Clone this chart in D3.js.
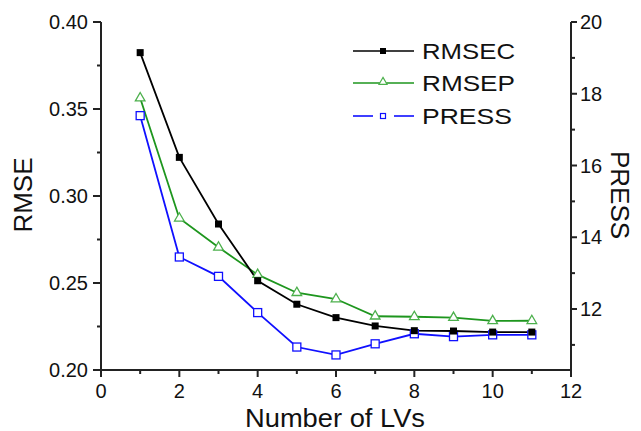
<!DOCTYPE html>
<html><head><meta charset="utf-8">
<script src="https://cdn.jsdelivr.net/npm/d3@7"></script>
<style>body{margin:0;background:#fff;} text{font-family:"Liberation Sans",Arial,sans-serif;fill:#111;}</style>
</head><body><svg id="c" width="641" height="431"></svg>
<script>
const lvs = [1,2,3,4,5,6,7,8,9,10,11];
const rmsec = [0.3824,0.3222,0.2839,0.2513,0.2378,0.2301,0.2253,0.2226,0.2224,0.2218,0.2218];
const rmsep = [0.3563,0.2872,0.2705,0.2548,0.2444,0.2408,0.2309,0.2306,0.2301,0.2282,0.2283];
const press = [17.39,13.45,12.91,11.90,10.94,10.72,11.03,11.31,11.23,11.28,11.28];
const xTicks = [0,2,4,6,8,10,12];
const yLeftTicks = [0.20,0.25,0.30,0.35,0.40];
const yRightTicks = [12,14,16,18,20];
const seriesNames = ["RMSEC","RMSEP","PRESS"];

const svg = d3.select("#c");
const L = 101, R = 571, T = 22, B = 370;
const x = d3.scaleLinear().domain([0,12]).range([L,R]);
const yl = d3.scaleLinear().domain([0.20,0.40]).range([B,T]);
const yr = d3.scaleLinear().domain([10.3,20]).range([B,T]);

const axisCol = "#222";
svg.append("line").attr("x1",L).attr("x2",L).attr("y1",T).attr("y2",B+1).attr("stroke",axisCol).attr("stroke-width",2);
svg.append("line").attr("x1",R).attr("x2",R).attr("y1",T).attr("y2",B+1).attr("stroke",axisCol).attr("stroke-width",2);
svg.append("line").attr("x1",L-1).attr("x2",R+1).attr("y1",B).attr("y2",B).attr("stroke",axisCol).attr("stroke-width",2);

const gx = svg.append("g");
d3.range(0,13,1).forEach(v=>{
  const major = v%2===0;
  gx.append("line").attr("x1",x(v)).attr("x2",x(v)).attr("y1",B).attr("y2",B+(major?7:4)).attr("stroke",axisCol).attr("stroke-width",2);
});
xTicks.forEach(v=>{
  gx.append("text").attr("x",x(v)).attr("y",398).attr("text-anchor","middle").attr("font-size",20).text(v);
});
d3.range(0,9).forEach(i=>{
  const v = 0.20 + i*0.025;
  const major = i%2===0;
  svg.append("line").attr("x1",L-(major?8:4)).attr("x2",L).attr("y1",yl(v)).attr("y2",yl(v)).attr("stroke",axisCol).attr("stroke-width",2);
});
yLeftTicks.forEach(v=>{
  svg.append("text").attr("x",88).attr("y",yl(v)+7).attr("text-anchor","end").attr("font-size",20).text(v.toFixed(2));
});
d3.range(11,21).forEach(v=>{
  const major = v%2===0;
  svg.append("line").attr("x1",R).attr("x2",R+(major?6:4)).attr("y1",yr(v)).attr("y2",yr(v)).attr("stroke",axisCol).attr("stroke-width",2);
});
yRightTicks.forEach(v=>{
  svg.append("text").attr("x",580).attr("y",yr(v)+7).attr("text-anchor","start").attr("font-size",20).text(v);
});

svg.append("text").attr("x",245).attr("y",427).attr("font-size",25).attr("textLength",180).attr("lengthAdjust","spacingAndGlyphs").text("Number of LVs");
svg.append("text").attr("transform","translate(32,195) rotate(-90)").attr("text-anchor","middle").attr("font-size",26).text("RMSE");
svg.append("text").attr("transform","translate(611,195) rotate(90)").attr("text-anchor","middle").attr("font-size",26).text("PRESS");

const black="#000", green="#1e961e", blue="#1010ff";
const lineL = d3.line().x(d=>x(d[0])).y(d=>yl(d[1]));
const lineR = d3.line().x(d=>x(d[0])).y(d=>yr(d[1]));
const dBlack = lvs.map((v,i)=>[v,rmsec[i]]);
const dGreen = lvs.map((v,i)=>[v,rmsep[i]]);
const dBlue = lvs.map((v,i)=>[v,press[i]]);

svg.append("path").attr("d",lineR(dBlue)).attr("fill","none").attr("stroke",blue).attr("stroke-width",1.8);
svg.append("path").attr("d",lineL(dGreen)).attr("fill","none").attr("stroke",green).attr("stroke-width",1.8);
svg.append("path").attr("d",lineL(dBlack)).attr("fill","none").attr("stroke",black).attr("stroke-width",1.8);

const tri = d3.symbol().type(d3.symbolTriangle).size(40);
svg.selectAll(".mb").data(dBlue).join("rect").attr("x",d=>x(d[0])-4).attr("y",d=>yr(d[1])-4).attr("width",8).attr("height",8).attr("fill","#fff").attr("stroke",blue).attr("stroke-width",1.3);
svg.selectAll(".mg").data(dGreen).join("path").attr("d",tri).attr("transform",d=>`translate(${x(d[0])},${yl(d[1])})`).attr("fill","#fff").attr("stroke","#4cb04c").attr("stroke-width",1.3);
svg.selectAll(".mk").data(dBlack).join("rect").attr("x",d=>x(d[0])-3.5).attr("y",d=>yl(d[1])-3.5).attr("width",7).attr("height",7).attr("fill",black);

const leg = svg.append("g");
const ly = [51,83,116];
leg.append("line").attr("x1",353).attr("x2",414).attr("y1",ly[0]).attr("y2",ly[0]).attr("stroke",black).attr("stroke-width",1.6);
leg.append("rect").attr("x",380).attr("y",ly[0]-3).attr("width",6).attr("height",6).attr("fill",black);
leg.append("line").attr("x1",353).attr("x2",414).attr("y1",ly[1]).attr("y2",ly[1]).attr("stroke",green).attr("stroke-width",1.6);
leg.append("path").attr("d",d3.symbol().type(d3.symbolTriangle).size(28)).attr("transform",`translate(383,${ly[1]-1})`).attr("fill","#fff").attr("stroke","#4cb04c").attr("stroke-width",1.2);
leg.append("line").attr("x1",353).attr("x2",373).attr("y1",ly[2]).attr("y2",ly[2]).attr("stroke",blue).attr("stroke-width",1.6);
leg.append("line").attr("x1",394).attr("x2",414).attr("y1",ly[2]).attr("y2",ly[2]).attr("stroke",blue).attr("stroke-width",1.6);
leg.append("rect").attr("x",380.5).attr("y",ly[2]-2.5).attr("width",5).attr("height",5).attr("fill","#fff").attr("stroke",blue).attr("stroke-width",1.2);
const legLen = [93,93,90];
seriesNames.forEach((n,i)=>{
  leg.append("text").attr("x",422).attr("y",ly[i]+8).attr("font-size",22).attr("textLength",legLen[i]).attr("lengthAdjust","spacingAndGlyphs").text(n);
});
</script></body></html>
